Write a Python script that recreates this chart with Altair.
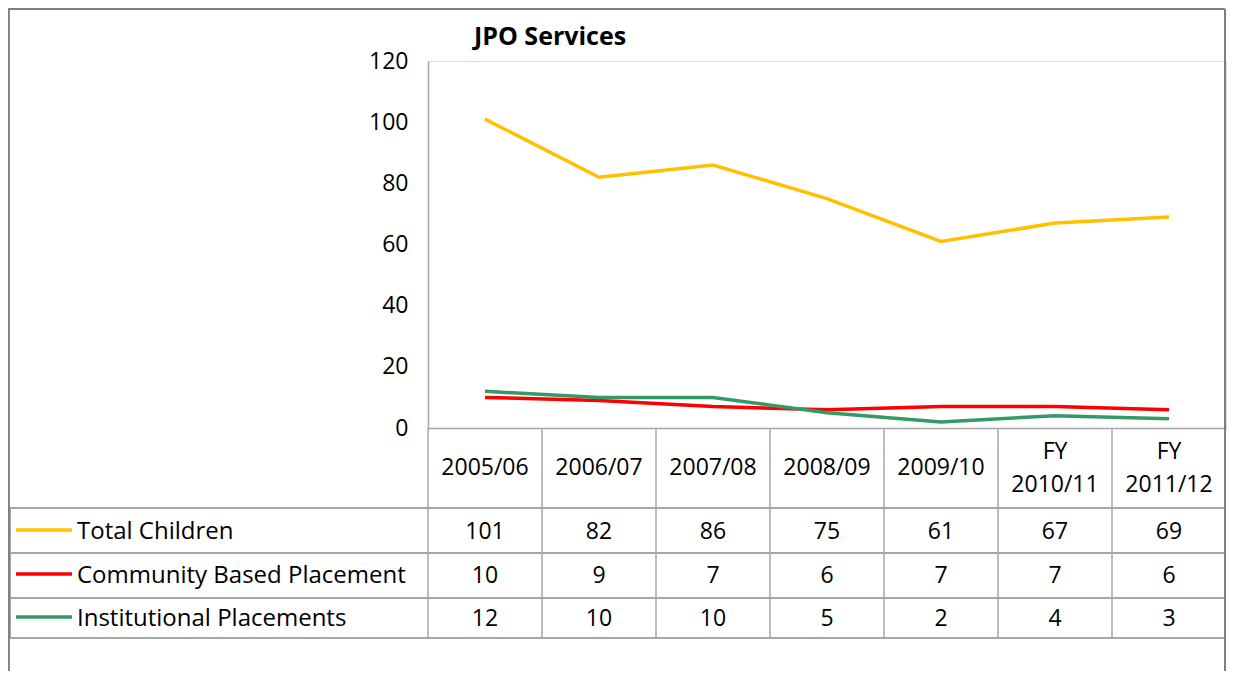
import altair as alt
import pandas as pd

categories = ["2005/06", "2006/07", "2007/08", "2008/09", "2009/10", "FY 2010/11", "FY 2011/12"]
series_names = ["Total Children", "Community Based Placement", "Institutional Placements"]
total_children = [101, 82, 86, 75, 61, 67, 69]
community_based = [10, 9, 7, 6, 7, 7, 6]
institutional = [12, 10, 10, 5, 2, 4, 3]
series_values = [total_children, community_based, institutional]
series_colors = ["#FFC000", "#FF0000", "#339966"]
y_ticks = [0, 20, 40, 60, 80, 100, 120]
title_text = "JPO Services"

FONT = "Open Sans"
GRID = "#a6a6a6"
W, H = 798, 367

rows = []
for name, vals in zip(series_names, series_values):
    for c, v in zip(categories, vals):
        rows.append({"cat": c, "series": name, "value": v})
df = pd.DataFrame(rows)
cat_df = pd.DataFrame({"cat": categories})

xscale = alt.Scale(type="band", domain=categories, paddingInner=0, paddingOuter=0)
x_center = alt.X("cat:N", scale=xscale, bandPosition=0.5,
                 axis=alt.Axis(labels=False, ticks=False, title=None, domain=True,
                               domainColor=GRID, domainWidth=1.5, grid=False))
yscale = alt.Scale(domain=[0, 120])

lines = alt.Chart(df).mark_line(strokeWidth=3.5).encode(
    x=x_center,
    y=alt.Y("value:Q", scale=yscale,
            axis=alt.Axis(values=y_ticks, ticks=False, grid=False, title=None,
                          labelFontSize=23, labelFont=FONT, labelColor="black",
                          labelPadding=20, domainColor=GRID, domainWidth=1.5)),
    color=alt.Color("series:N", scale=alt.Scale(domain=series_names, range=series_colors),
                    legend=None),
)

layers = [lines]

# table vertical lines at category boundaries (below the axis only)
layers.append(alt.Chart(cat_df).mark_rule(color=GRID, strokeWidth=1.5).encode(
    x=alt.X("cat:N", scale=xscale, bandPosition=0),
    y=alt.value(H), y2=alt.value(577)))

# table horizontal lines
for yy in [447, 492, 537, 577]:
    layers.append(alt.Chart(cat_df).mark_rule(color=GRID, strokeWidth=1.5).encode(
        x=alt.value(-418), x2=alt.value(798), y=alt.value(yy)))
layers.append(alt.Chart(cat_df).mark_rule(color=GRID, strokeWidth=1.5).encode(
    x=alt.value(-418), y=alt.value(447), y2=alt.value(577)))

# outer border
border = "#7f7f7f"
layers.append(alt.Chart(cat_df).mark_rule(color=border, strokeWidth=1.5).encode(
    x=alt.value(-419.5), y=alt.value(-52), y2=alt.value(620)))
layers.append(alt.Chart(cat_df).mark_rule(color=border, strokeWidth=1.5).encode(
    x=alt.value(797), y=alt.value(-52), y2=alt.value(620)))
layers.append(alt.Chart(cat_df).mark_rule(color=border, strokeWidth=1.5).encode(
    x=alt.value(-419.5), x2=alt.value(797), y=alt.value(-52)))

# title
layers.append(alt.Chart(pd.DataFrame({"t": [title_text]})).mark_text(
    font=FONT, fontSize=25, fontWeight="bold", align="left", baseline="alphabetic",
    color="black").encode(x=alt.value(46), y=alt.value(-16), text="t:N"))

# header labels: single-line ones centered, two-line ones ("FY" + year) split on space
header_one = alt.Chart(cat_df).transform_filter("indexof(datum.cat, ' ') < 0").mark_text(
    font=FONT, fontSize=23, baseline="middle", color="black").encode(
    x=alt.X("cat:N", scale=xscale, bandPosition=0.5), y=alt.value(H + 40), text="cat:N")
header_two = alt.Chart(cat_df).transform_filter("indexof(datum.cat, ' ') >= 0").mark_text(
    font=FONT, fontSize=23, lineBreak=" ", lineHeight=33, baseline="middle",
    color="black").encode(
    x=alt.X("cat:N", scale=xscale, bandPosition=0.5), y=alt.value(H + 24), text="cat:N")
layers += [header_one, header_two]

row_y = [471, 515, 558]
for name, color, ry in zip(series_names, series_colors, row_y):
    sub = df[df["series"] == name]
    layers.append(alt.Chart(sub).mark_text(font=FONT, fontSize=23, baseline="middle",
                                           color="black").encode(
        x=alt.X("cat:N", scale=xscale, bandPosition=0.5), y=alt.value(ry),
        text="value:Q"))
    lab = pd.DataFrame({"series": [name]})
    layers.append(alt.Chart(lab).mark_rule(color=color, strokeWidth=3.5).encode(
        x=alt.value(-412), x2=alt.value(-356), y=alt.value(ry - 2)))
    layers.append(alt.Chart(lab).mark_text(font=FONT, fontSize=24, align="left",
                                           baseline="middle", color="black").encode(
        x=alt.value(-351), y=alt.value(ry), text="series:N"))

chart = alt.layer(*layers).properties(
    width=W, height=H,
    autosize=alt.AutoSizeParams(type="none"),
    padding={"left": 420, "top": 53, "right": 1, "bottom": 243},
).configure_view(stroke=None).configure(background="white")

chart.save("out.html", embed_options={"renderer": "svg", "actions": False})
